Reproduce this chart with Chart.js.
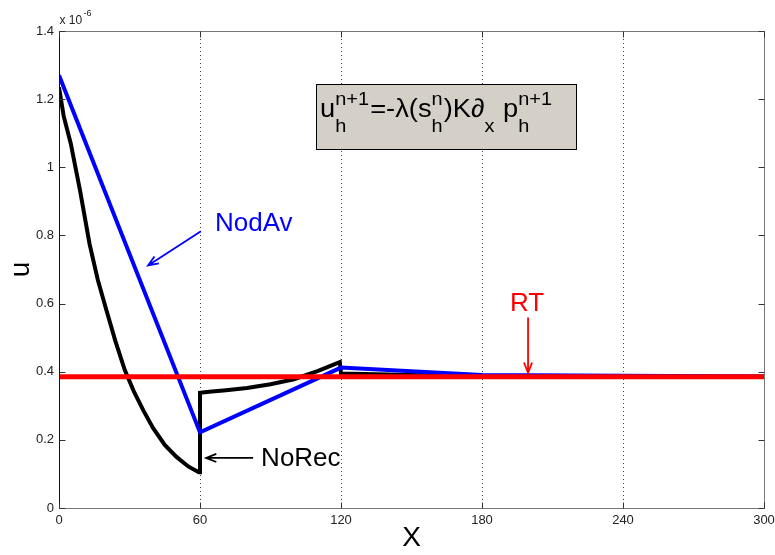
<!DOCTYPE html>
<html>
<head>
<meta charset="utf-8">
<script src="https://cdn.jsdelivr.net/npm/chart.js@4/dist/chart.umd.min.js"></script>
<style>
  body { margin: 0; background: #fff; }
</style>
</head>
<body>
<canvas id="uChart" width="775" height="555"></canvas>
<script>
// values (u in units of 1e-6)
const noRecX = [0, 2, 5, 9, 13, 16.5, 20, 24, 28, 32, 36, 40, 45, 50, 55, 59.5, 60, 60, 65, 70, 80, 90, 100, 110, 119.5, 120, 150, 180, 300];
const noRecU = [1.235, 1.15, 1.07, 0.93, 0.775, 0.67, 0.585, 0.49, 0.405, 0.34, 0.285, 0.235, 0.185, 0.15, 0.122, 0.105, 0.105, 0.338, 0.342, 0.345, 0.352, 0.363, 0.378, 0.402, 0.428, 0.395, 0.39, 0.387, 0.385];

const nodAvX = [0, 60, 120, 180, 300];
const nodAvU = [1.27, 0.222, 0.412, 0.39, 0.386];

const rtX = [0, 300];
const rtU = [0.385, 0.385];

const xTicks = [0, 60, 120, 180, 240, 300];
const yTickLabels = ['0', '0.2', '0.4', '0.6', '0.8', '1', '1.2', '1.4'];

const FONT = "'Liberation Sans', Arial, sans-serif";

function toPoints(xs, ys) {
    return xs.map((x, i) => ({ x: x, y: ys[i] }));
}

// annotation anchors in data units
const notes = {
    nodAv: { text: 'NodAv', tx: 66.4, ty: 0.812, ax1: 60.4, ay1: 0.812, ax2: 37.9, ay2: 0.712, color: '#0000ff' },
    rt:    { text: 'RT', tx: 191.9, ty: 0.579, ax1: 199.6, ay1: 0.559, ax2: 199.6, ay2: 0.397, color: '#ff0000' },
    noRec: { text: 'NoRec', tx: 86, ty: 0.124, ax1: 82.6, ay1: 0.147, ax2: 62.6, ay2: 0.147, color: '#000000' }
};
const formulaBox = { x1: 109.4, x2: 220, y1: 1.244, y2: 1.053 };

function arrow(ctx, x1, y1, x2, y2, color, width) {
    const ang = Math.atan2(y2 - y1, x2 - x1);
    const head = 11, spread = 0.38;
    ctx.save();
    ctx.strokeStyle = color;
    ctx.lineWidth = width;
    ctx.beginPath();
    ctx.moveTo(x1, y1);
    ctx.lineTo(x2, y2);
    ctx.moveTo(x2 - head * Math.cos(ang - spread), y2 - head * Math.sin(ang - spread));
    ctx.lineTo(x2, y2);
    ctx.lineTo(x2 - head * Math.cos(ang + spread), y2 - head * Math.sin(ang + spread));
    ctx.stroke();
    ctx.restore();
}

function drawFormula(ctx, left, width) {
    const main = '26px ' + FONT, small = '19px ' + FONT;
    const runs = [
        { t: 'u' }, { sup: 'n+1', sub: 'h' }, { t: '=-λ(s' }, { sup: 'n', sub: 'h' },
        { t: ')K∂' }, { sub: 'x' }, { t: ' p' }, { sup: 'n+1', sub: 'h' }
    ];
    let total = 0;
    runs.forEach(r => {
        if (r.t) { ctx.font = main; r.w = ctx.measureText(r.t).width; }
        else {
            ctx.font = small;
            r.w = Math.max(r.sup ? ctx.measureText(r.sup).width : 0, r.sub ? ctx.measureText(r.sub).width : 0) + 1;
        }
        total += r.w;
    });
    const sx = width / total;
    ctx.save();
    ctx.translate(left, 0);
    ctx.scale(sx, 1);
    ctx.fillStyle = '#000';
    ctx.textBaseline = 'alphabetic';
    ctx.textAlign = 'left';
    let x = 0;
    runs.forEach(r => {
        if (r.t) { ctx.font = main; ctx.fillText(r.t, x, 117); }
        else {
            ctx.font = small;
            if (r.sup) ctx.fillText(r.sup, x, 105);
            if (r.sub) ctx.fillText(r.sub, x, 132);
        }
        x += r.w;
    });
    ctx.restore();
}

const framePlugin = {
    id: 'frame',
    beforeDatasetsDraw(chart) {
        const ctx = chart.ctx, a = chart.chartArea, xs = chart.scales.x;
        ctx.save();
        ctx.strokeStyle = '#444';
        ctx.lineWidth = 1;
        ctx.setLineDash([1, 3]);
        xTicks.slice(1, -1).forEach(v => {
            const px = Math.round(xs.getPixelForValue(v)) + 0.5;
            ctx.beginPath();
            ctx.moveTo(px, a.top);
            ctx.lineTo(px, a.bottom);
            ctx.stroke();
        });
        ctx.restore();
    },
    afterDatasetsDraw(chart) {
        const ctx = chart.ctx, a = chart.chartArea;
        const xs = chart.scales.x, ys = chart.scales.y;
        const L = Math.round(a.left) + 0.5, R = Math.round(a.right) + 0.5;
        const T = Math.round(a.top) + 0.5, B = Math.round(a.bottom) + 0.5;

        // box and inward ticks
        ctx.save();
        ctx.lineWidth = 1;
        ctx.strokeStyle = '#777';
        ctx.beginPath();
        ctx.moveTo(L, T); ctx.lineTo(R, T); ctx.lineTo(R, B); ctx.lineTo(L, B);
        ctx.stroke();
        ctx.strokeStyle = '#111';
        ctx.beginPath();
        ctx.moveTo(L, T); ctx.lineTo(L, B);
        ctx.stroke();
        ctx.strokeStyle = '#333';
        ctx.beginPath();
        xTicks.forEach(v => {
            const px = Math.round(xs.getPixelForValue(v)) + 0.5;
            ctx.moveTo(px, B); ctx.lineTo(px, B - 6);
            ctx.moveTo(px, T); ctx.lineTo(px, T + 6);
        });
        ys.ticks.forEach(t => {
            const py = Math.round(ys.getPixelForValue(t.value)) + 0.5;
            ctx.moveTo(L, py); ctx.lineTo(L + 6, py);
            ctx.moveTo(R, py); ctx.lineTo(R - 6, py);
        });
        ctx.stroke();

        // exponent label
        ctx.fillStyle = '#222';
        ctx.textBaseline = 'alphabetic';
        ctx.font = '12px ' + FONT;
        ctx.fillText('x 10', L, 24);
        ctx.font = '9px ' + FONT;
        ctx.fillText('-6', L + 24, 16);

        // formula box
        const bx1 = xs.getPixelForValue(formulaBox.x1), bx2 = xs.getPixelForValue(formulaBox.x2);
        const by1 = ys.getPixelForValue(formulaBox.y1), by2 = ys.getPixelForValue(formulaBox.y2);
        ctx.fillStyle = '#d4d0c8';
        ctx.fillRect(Math.round(bx1), Math.round(by1), Math.round(bx2 - bx1), Math.round(by2 - by1));
        ctx.strokeStyle = '#000';
        ctx.strokeRect(Math.round(bx1) + 0.5, Math.round(by1) + 0.5, Math.round(bx2 - bx1), Math.round(by2 - by1));
        ctx.restore();
        drawFormula(ctx, bx1 + 4, 233);

        // labelled arrows
        Object.values(notes).forEach(n => {
            arrow(ctx, xs.getPixelForValue(n.ax1), ys.getPixelForValue(n.ay1),
                  xs.getPixelForValue(n.ax2), ys.getPixelForValue(n.ay2), n.color, 1.8);
            ctx.save();
            ctx.font = '26px ' + FONT;
            ctx.fillStyle = n.color;
            ctx.textBaseline = 'alphabetic';
            ctx.fillText(n.text, xs.getPixelForValue(n.tx), ys.getPixelForValue(n.ty));
            ctx.restore();
        });
    }
};

const ctx = document.getElementById('uChart').getContext('2d');
const uChart = new Chart(ctx, {
    type: 'scatter',
    data: {
        datasets: [
            { label: 'RT', data: toPoints(rtX, rtU), borderColor: '#ff0000', borderWidth: 5 },
            { label: 'NodAv', data: toPoints(nodAvX, nodAvU), borderColor: '#0000ff', borderWidth: 4 },
            { label: 'NoRec', data: toPoints(noRecX, noRecU), borderColor: '#000000', borderWidth: 4 }
        ]
    },
    options: {
        responsive: false,
        animation: false,
        showLine: true,
        elements: {
            point: { radius: 0, hoverRadius: 0 },
            line: { tension: 0, borderJoinStyle: 'miter', borderCapStyle: 'butt' }
        },
        layout: { padding: { left: 0, right: 11, top: 31, bottom: 0 } },
        plugins: { legend: { display: false }, tooltip: { enabled: false } },
        scales: {
            x: {
                type: 'linear', min: 0, max: 300,
                grid: { display: false, drawTicks: false },
                border: { display: false },
                ticks: { stepSize: 60, autoSkip: false, maxRotation: 0, padding: 5, color: '#222', font: { family: FONT, size: 13 } },
                title: { display: true, text: 'X', color: '#000', padding: { top: 0, bottom: 0 }, font: { family: FONT, size: 28 } },
                afterFit(scale) {
                    scale.height = 47;
                    scale.paddingLeft = 0;
                    scale.paddingRight = 0;
                }
            },
            y: {
                type: 'linear', min: 0, max: 1.4,
                grid: { display: false, drawTicks: false },
                border: { display: false },
                ticks: {
                    stepSize: 0.2, autoSkip: false, padding: 5, color: '#222', font: { family: FONT, size: 13 },
                    callback: (v, i) => yTickLabels[i]
                },
                title: { display: true, text: 'u', color: '#000', padding: { top: 4, bottom: 0 }, font: { family: FONT, size: 28 } },
                afterFit(scale) {
                    scale.width = 59;
                    scale.paddingTop = 0;
                    scale.paddingBottom = 0;
                }
            }
        }
    },
    plugins: [framePlugin]
});
</script>
</body>
</html>
